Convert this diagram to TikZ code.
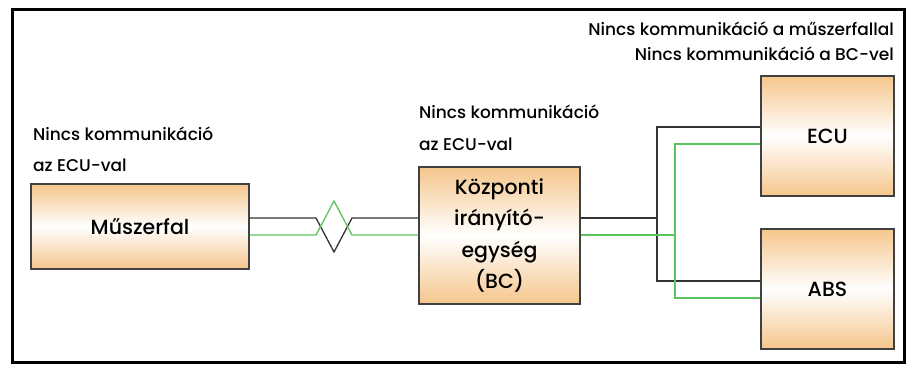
\documentclass[tikz,border=0pt]{standalone}
\usepackage{fontspec}
\setmainfont{Poppins}[UprightFont={* Medium}]
\begin{document}
\begin{tikzpicture}[x=1pt,y=-1pt,
  unit/.style={draw=black!75, line width=1.2pt, top color=boxorange, bottom color=boxorange,
    middle color=white, inner sep=0pt, font=\fontsize{20.5}{31.5}\selectfont, align=center},
  wire/.style={draw=black!80, line width=1.3pt},
  gwire/.style={draw=wiregreen, line width=1.3pt},
  note/.style={inner sep=0pt, font=\fontsize{17}{31}\selectfont}]
\definecolor{boxorange}{HTML}{F5C68C}
\definecolor{wiregreen}{HTML}{5CC45C}
\useasboundingbox (0,0) rectangle (911,365);
% outer frame
\draw[line width=3pt, black] (12,9) rectangle (904,362);

% control units
\node[unit, minimum width=218pt, minimum height=85pt] (musz) at (140,226.5) {Műszerfal};
\node[unit, minimum width=161pt, minimum height=137pt] (bc) at (499.5,235.5)
  {Központi\\irányító-\\egység\\(BC)};
\node[unit, minimum width=133pt, minimum height=120pt] (ecu) at (827.5,136) {ECU};
\node[unit, minimum width=133pt, minimum height=120pt] (abs) at (827.5,289) {ABS};

% status notes
\node[note, anchor=base west] (n1a) at (33,140) {Nincs kommunikáció};
\node[note, anchor=base west] (n1b) at (33,171) {az ECU-val};
\node[note, anchor=base west] (n2a) at (419,118) {Nincs kommunikáció};
\node[note, anchor=base west] (n2b) at (419,150) {az ECU-val};
\node[note, anchor=base east] (n3a) at (894,35) {Nincs kommunikáció a műszerfallal};
\node[note, anchor=base east] (n3b) at (894,60) {Nincs kommunikáció a BC-vel};

% bus rows
\coordinate (hi) at (0,218);
\coordinate (lo) at (0,235);
\coordinate (ehi) at (0,127);
\coordinate (elo) at (0,144);
\coordinate (ahi) at (0,281);
\coordinate (alo) at (0,298);

% interrupted link between instrument cluster and BC
\draw[wire] (musz.east |- hi) -- (316,218) -- (334,252) -- (352,218) -- (bc.west |- hi);
\draw[gwire] (musz.east |- lo) -- (316,235) -- (334,201) -- (352,235) -- (bc.west |- lo);

% BC to ECU and ABS
\draw[wire] (bc.east |- hi) -- (657,218);
\draw[wire] (ecu.west |- ehi) -- (657,127) -- (657,281) -- (abs.west |- ahi);
\draw[gwire] (bc.east |- lo) -- (675,235);
\draw[gwire] (ecu.west |- elo) -- (675,144) -- (675,298) -- (abs.west |- alo);
\end{tikzpicture}
\end{document}
